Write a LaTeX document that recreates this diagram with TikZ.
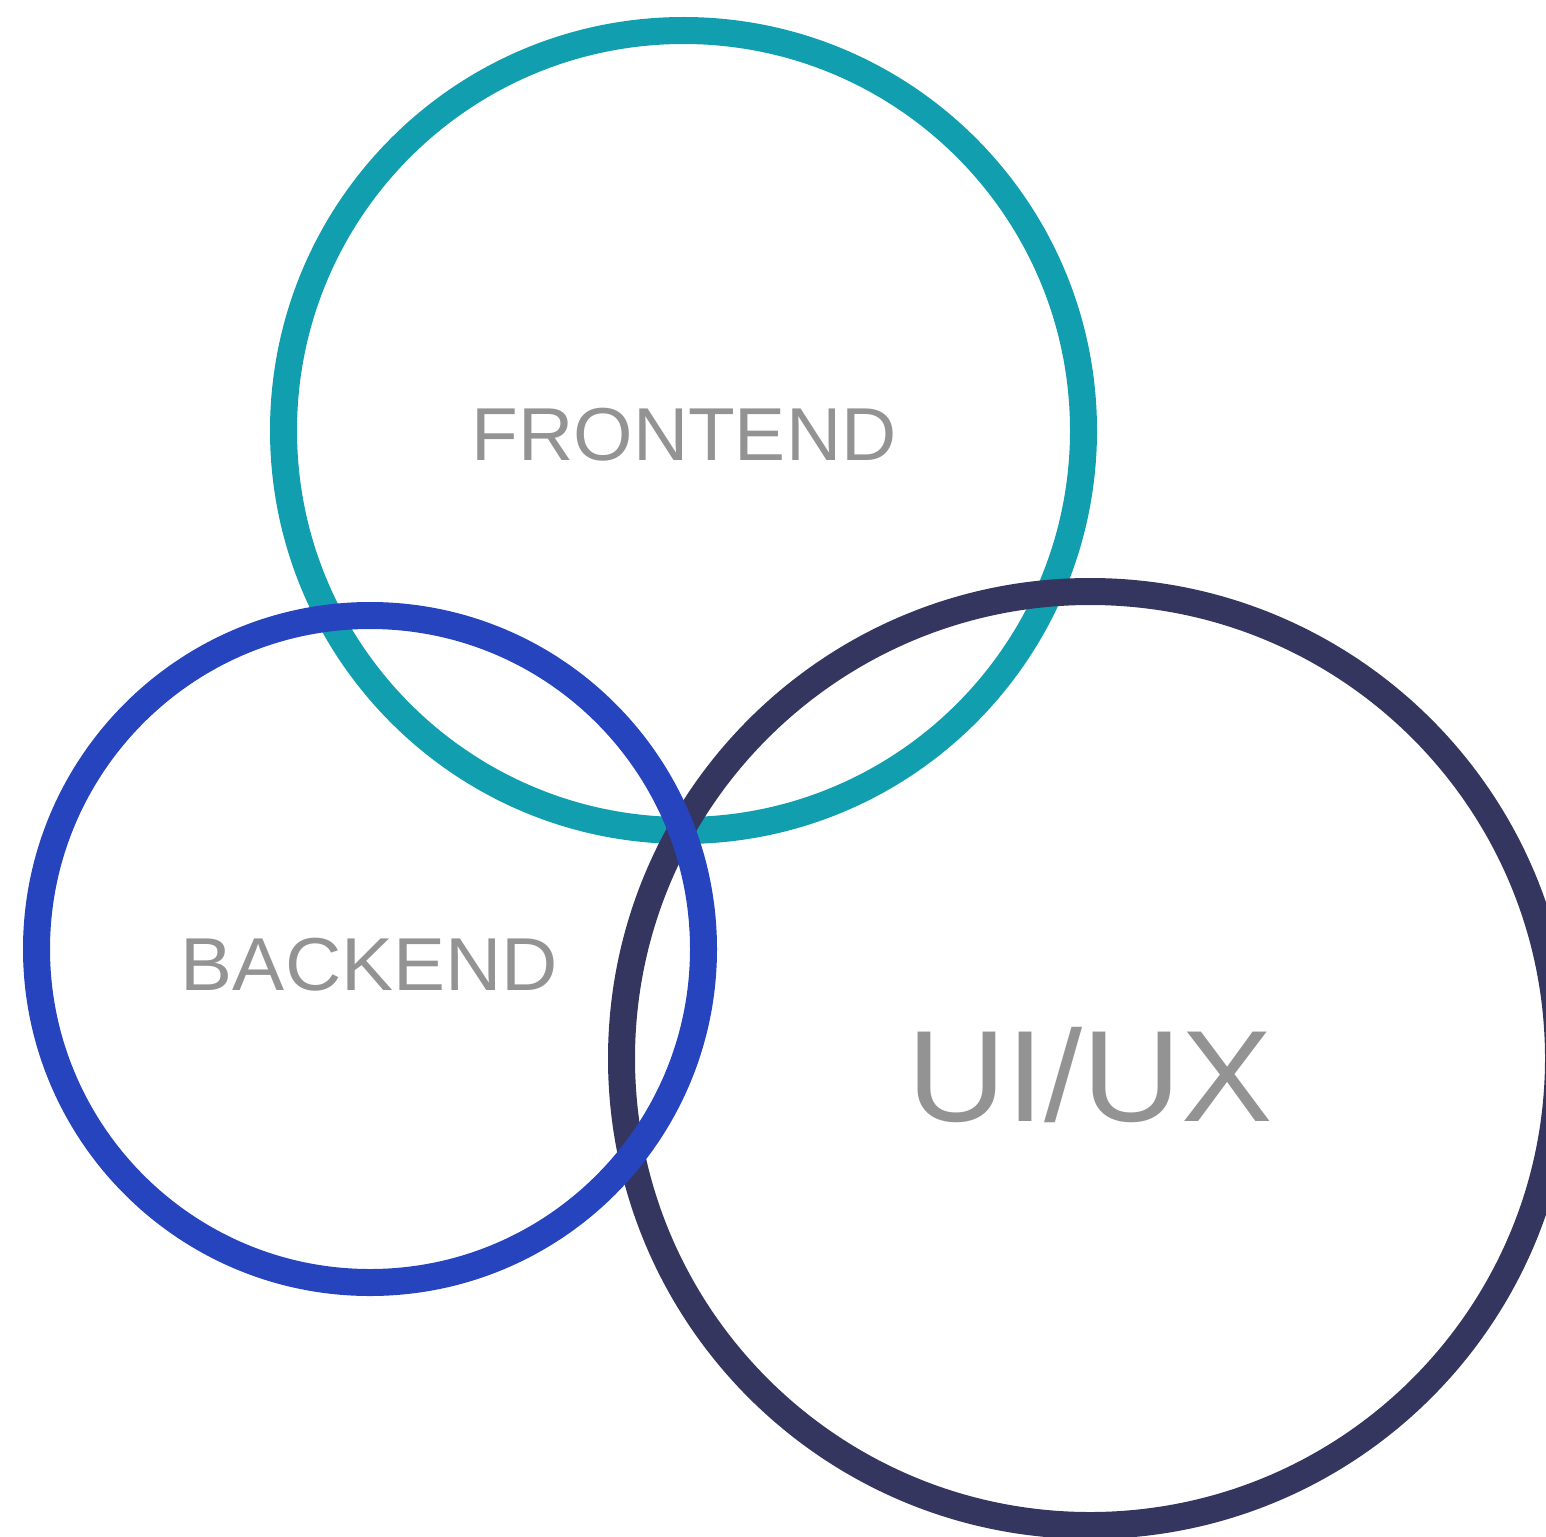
\documentclass[tikz,border=0pt]{standalone}
\usepackage{fontspec}
\setmainfont{Liberation Sans}
\definecolor{teal}{HTML}{119FB0}
\definecolor{royal}{HTML}{2644BE}
\definecolor{navy}{HTML}{34365F}
\definecolor{label}{HTML}{939393}
\tikzset{
  ring/.style={line width=27pt},
  field/.style={text=label, anchor=base, inner sep=0pt, font=\fontsize{75}{90}\selectfont},
}
\begin{document}
\begin{tikzpicture}[x=1pt,y=-1pt]
	\useasboundingbox (0,0) rectangle (1546,1536);

            % the three rings, teal under, blue on top
            \draw[ring, teal] (683.5,430.5) circle [radius=400];
            \draw[ring, navy] (1090,1058.5) ellipse [x radius=468.5, y radius=467];
            \draw[ring, royal] (370,949) circle [radius=333.5];

            \node[field] (front) at (684,460) {\scalebox{1.02}[1]{FRONTEND}};
            \node[field] (back) at (369.5,990) {\scalebox{1.04}[1]{BACKEND}};
            \node[field, font=\fontsize{130}{150}\selectfont] (uiux) at (1090.5,1121) {\scalebox{1.053}[1]{UI/UX}};
        \end{tikzpicture}
\end{document}
